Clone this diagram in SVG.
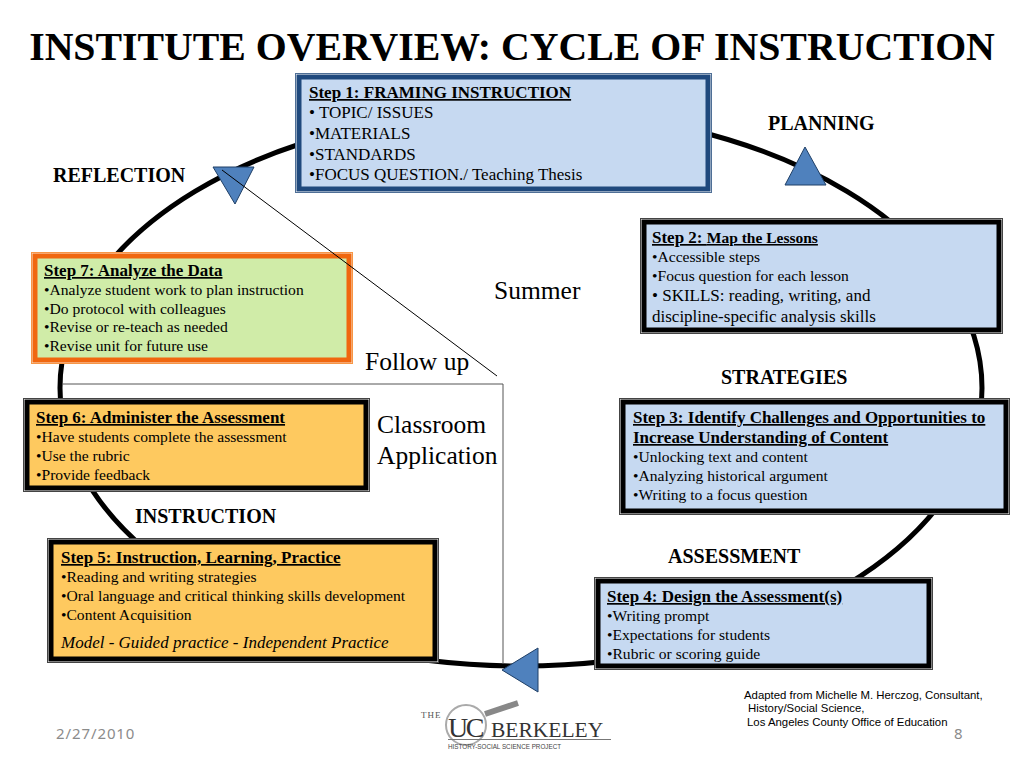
<svg xmlns="http://www.w3.org/2000/svg" width="1024" height="768" viewBox="0 0 1024 768">
<style>
text{font-family:"Liberation Serif","Times New Roman",serif;fill:#000}
.h{font-size:17px;font-weight:bold;text-decoration:underline}
.t{font-size:15.600px}
.l{font-size:17px}
.lb{font-size:20px;font-weight:bold}
.big{font-size:25.500px}
.s{font-family:"Liberation Sans",Arial,sans-serif;font-size:11.400px}
.foot{font-family:"Noto Sans",sans-serif;font-size:15px;letter-spacing:.9px;fill:#8b8b8b}
.o{fill:#fff;stroke:#444;stroke-width:1}
.i{stroke:#000;stroke-width:5}
.blue{fill:#c6d9f1}
.orange{fill:#fec95f}
.tri{fill:#4f81bd;stroke:#1f3f66;stroke-width:1}
</style>
<rect width="1024" height="768" fill="#fff"/>
<text x="512" y="60" text-anchor="middle" font-size="39.800" font-weight="bold">INSTITUTE OVERVIEW: CYCLE OF INSTRUCTION</text>
<g id="connectors" fill="none">
<ellipse cx="521" cy="388" rx="461" ry="278" stroke="#000" stroke-width="5"/>
<path d="M62 384H503V664" stroke="#555" stroke-width="1"/>
</g>
<g id="arrow-reflection"><path class="tri" d="M213 167H254L235 204Z"/></g>
<g id="arrow-planning"><path class="tri" d="M785 185H826L805 147Z"/></g>
<g id="arrow-assessment"><path class="tri" d="M538 648V692L502 670Z"/></g>
<g id="step1">
<rect x="295.500" y="73.500" width="416" height="119" class="o" style="stroke:#4f6f96"/>
<rect x="299" y="77" width="409" height="112" class="blue" stroke="#1f497d" stroke-width="5"/>
<text class="h" x="309" y="98">Step 1: FRAMING INSTRUCTION</text>
<text class="l" x="309" y="118">• TOPIC/ ISSUES</text>
<text class="l" x="309" y="139">•MATERIALS</text>
<text class="l" x="309" y="160">•STANDARDS</text>
<text class="l" x="309" y="180">•FOCUS QUESTION./ Teaching Thesis</text>
</g>
<g id="step2">
<rect x="640.500" y="218.500" width="362" height="115" class="o"/>
<rect x="644" y="222" width="355" height="108" class="blue i"/>
<text x="652" y="243"><tspan class="h">Step 2: </tspan><tspan font-size="15.500" font-weight="bold" text-decoration="underline">Map the Lessons</tspan></text>
<text class="t" x="652" y="262">•Accessible steps</text>
<text class="t" x="652" y="281">•Focus question for each lesson</text>
<text class="l" x="652" y="301">• SKILLS: reading, writing, and</text>
<text class="l" x="652" y="322">discipline-specific analysis skills</text>
</g>
<g id="step3">
<rect x="619.500" y="398.500" width="390" height="116" class="o"/>
<rect x="623" y="402" width="383" height="109" class="blue i"/>
<text class="h" x="633" y="423">Step 3: Identify Challenges and Opportunities to</text>
<text class="h" x="633" y="443">Increase Understanding of Content</text>
<text class="t" x="633" y="462">•Unlocking text and content</text>
<text class="t" x="633" y="481">•Analyzing historical argument</text>
<text class="t" x="633" y="500">•Writing to a focus question</text>
</g>
<g id="step4">
<rect x="594.500" y="577.500" width="338" height="92" class="o"/>
<rect x="598" y="581" width="331" height="85" class="blue i"/>
<text class="h" x="607" y="602">Step 4: Design the Assessment(s)</text>
<text class="t" x="607" y="621">•Writing prompt</text>
<text class="t" x="607" y="640">•Expectations for students</text>
<text class="t" x="607" y="659">•Rubric or scoring guide</text>
</g>
<g id="step5">
<rect x="47.500" y="538.500" width="391" height="124" class="o"/>
<rect x="51" y="542" width="384" height="117" class="orange i"/>
<text class="h" x="61" y="563">Step 5: Instruction, Learning, Practice</text>
<text class="t" x="61" y="582">•Reading and writing strategies</text>
<text class="t" x="61" y="601">•Oral language and critical thinking skills development</text>
<text class="t" x="61" y="620">•Content Acquisition</text>
<text class="l" x="61" y="648" font-style="italic">Model - Guided practice - Independent Practice</text>
</g>
<g id="step6">
<rect x="23.500" y="398.500" width="346" height="93" class="o"/>
<rect x="27" y="402" width="339" height="86" class="orange i"/>
<text class="h" x="36" y="423">Step 6: Administer the Assessment</text>
<text class="t" x="36" y="442">•Have students complete the assessment</text>
<text class="t" x="36" y="461">•Use the rubric</text>
<text class="t" x="36" y="480">•Provide feedback</text>
</g>
<g id="step7">
<rect x="31.500" y="252.500" width="321" height="111" fill="#fde4d0" stroke="#f79646"/>
<rect x="35" y="256" width="314" height="104" fill="#d0eca8" stroke="#f0670f" stroke-width="5"/>
<text class="h" x="44" y="276">Step 7: Analyze the Data</text>
<text class="t" x="44" y="295">•Analyze student work to plan instruction</text>
<text class="t" x="44" y="314">•Do protocol with colleagues</text>
<text class="t" x="44" y="332">•Revise or re-teach as needed</text>
<text class="t" x="44" y="351">•Revise unit for future use</text>
</g>
<g id="connector-follow-up" fill="none">
<path d="M222 170L497 376" stroke="#000" stroke-width="1"/>
</g>
<g id="labels">
<text class="lb" x="768" y="130">PLANNING</text>
<text class="lb" x="53" y="182">REFLECTION</text>
<text class="lb" x="721" y="384">STRATEGIES</text>
<text class="lb" x="668" y="563">ASSESSMENT</text>
<text class="lb" x="135" y="523">INSTRUCTION</text>
<text class="big" x="494" y="299">Summer</text>
<text class="big" x="365" y="370">Follow up</text>
<text class="big" x="377" y="433">Classroom</text>
<text class="big" x="377" y="464">Application</text>
<text class="s" x="744" y="699">Adapted from Michelle M. Herczog, Consultant,</text>
<text class="s" x="748" y="712">History/Social Science,</text>
<text class="s" x="747" y="726">Los Angeles County Office of Education</text>
<text class="foot" x="56" y="739">2/27/2010</text>
<text class="foot" x="954" y="739">8</text>
</g>
<g id="logo">
<circle cx="466" cy="725" r="20" fill="none" stroke="#aaa" stroke-width="2"/>
<path d="M485 714L518 703" stroke="#888" stroke-width="6"/>
<text x="421" y="718" font-size="9" letter-spacing="1" style="fill:#555">THE</text>
<text x="448" y="737" font-size="28" letter-spacing="-2.500" style="fill:#333">UC</text>
<text x="491" y="737" font-size="21.500" style="fill:#333">BERKELEY</text>
<path d="M448 739.500H611" stroke="#777" stroke-width="1"/>
<text x="448" y="749" font-size="6.300" style="font-family:'Liberation Sans',sans-serif;fill:#444">HISTORY-SOCIAL SCIENCE PROJECT</text>
</g>
</svg>
